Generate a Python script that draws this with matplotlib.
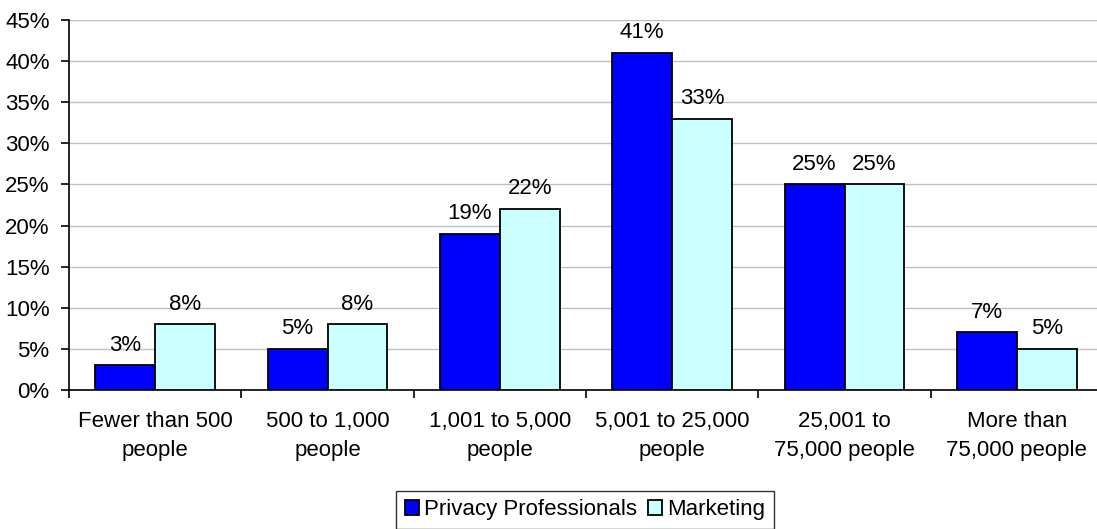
import matplotlib
matplotlib.use("Agg")
import matplotlib.pyplot as plt
import numpy as np

categories = ["Fewer than 500\npeople", "500 to 1,000\npeople", "1,001 to 5,000\npeople",
              "5,001 to 25,000\npeople", "25,001 to\n75,000 people", "More than\n75,000 people"]
privacy = [3, 5, 19, 41, 25, 7]
marketing = [8, 8, 22, 33, 25, 5]
series_names = ["Privacy Professionals", "Marketing"]
y_ticks = [0, 5, 10, 15, 20, 25, 30, 35, 40, 45]

plt.rcParams['font.family'] = ['Liberation Sans', 'DejaVu Sans']
fs = 16

W, H = 1097, 529
fig = plt.figure(figsize=(W / 100, H / 100), dpi=100)
left, right, top, bottom = 69, 1103, 20, 390
ax = fig.add_axes([left / W, 1 - bottom / H, (right - left) / W, (bottom - top) / H])

x = np.arange(len(categories))
bw = 0.348
ax.bar(x - bw / 2, privacy, bw, color="#0000ff", edgecolor="black", linewidth=1.3,
       label=series_names[0], zorder=3)
ax.bar(x + bw / 2, marketing, bw, color="#ccffff", edgecolor="black", linewidth=1.3,
       label=series_names[1], zorder=3)

for xs, vals in ((x - bw / 2, privacy), (x + bw / 2, marketing)):
    for xi, v in zip(xs, vals):
        ax.annotate(f"{v}%", (xi, v), xytext=(0, 7), textcoords="offset points",
                    ha="center", va="bottom", fontsize=fs)

ax.set_xlim(-0.5, len(categories) - 0.5)
ax.set_ylim(0, 45)
ax.set_yticks(y_ticks)
ax.set_yticklabels([f"{t}%" for t in y_ticks], fontsize=fs)
ax.yaxis.grid(True, color="#c0c0c0", linewidth=1, zorder=0)
ax.set_axisbelow(True)

ax.set_xticks(np.arange(len(categories) + 1) - 0.5)
ax.set_xticklabels([])
ax.set_xticks(x, minor=True)
ax.set_xticklabels(categories, minor=True, fontsize=fs, linespacing=1.5)
ax.tick_params(axis="x", which="minor", length=0, pad=15)
ax.tick_params(axis="x", which="major", length=6, width=1.2, direction="out")
ax.tick_params(axis="y", length=6, width=1.2, direction="out", pad=8)

for s in ["top", "right"]:
    ax.spines[s].set_visible(False)
for s in ["left", "bottom"]:
    ax.spines[s].set_linewidth(1.2)

leg = fig.legend(loc="center", bbox_to_anchor=(585 / W, 1 - 510 / H), ncol=2, fontsize=fs,
                 frameon=True, fancybox=False, edgecolor="black", handlelength=0.65,
                 handleheight=0.65, handletextpad=0.25, columnspacing=0.45, borderpad=0.4,
                 borderaxespad=0)
leg.get_frame().set_linewidth(1.0)

fig.savefig("out.png", dpi=100)
